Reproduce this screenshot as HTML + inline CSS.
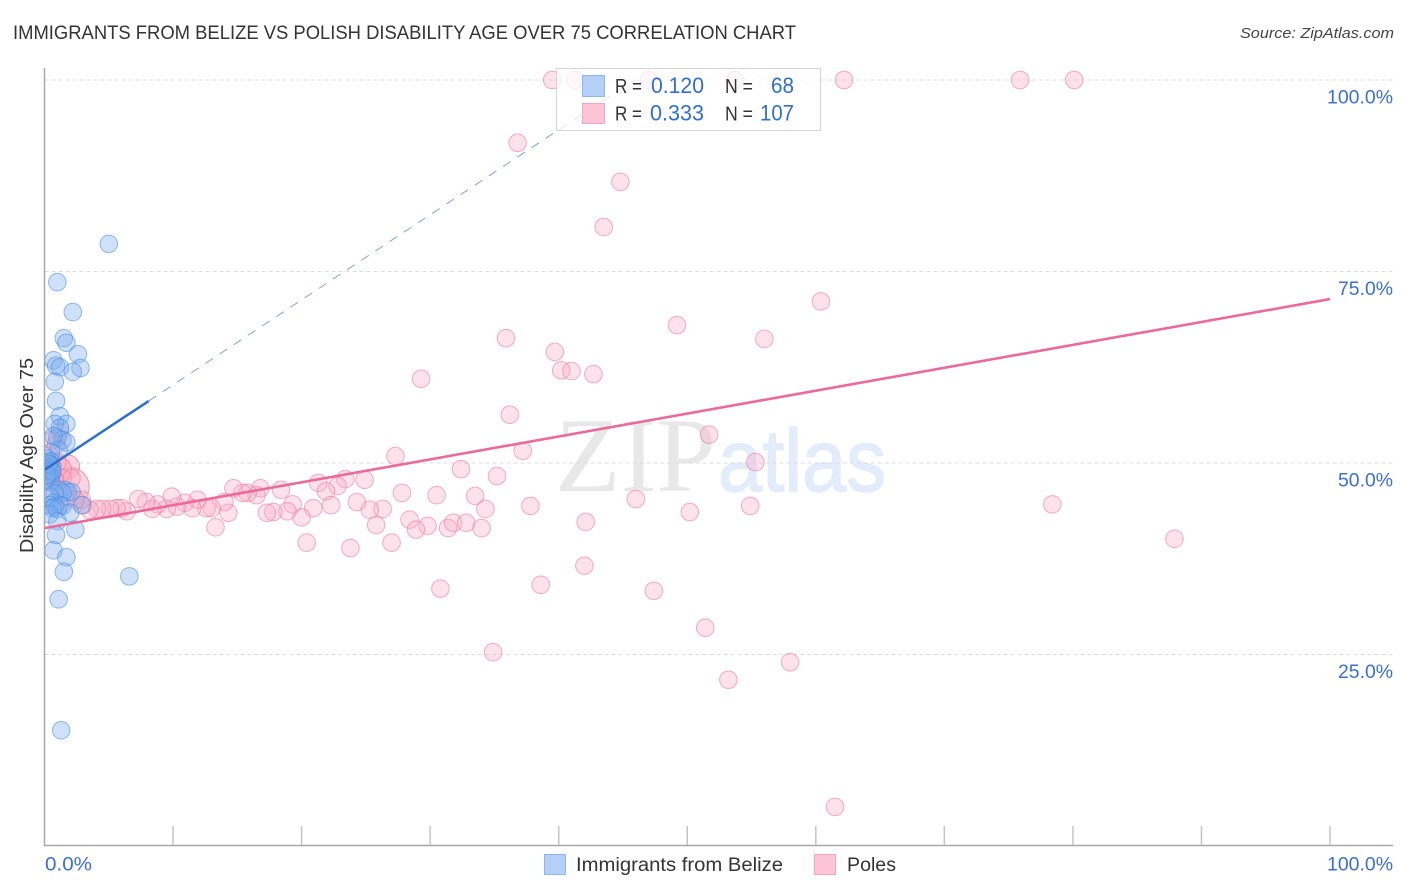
<!DOCTYPE html>
<html lang="en">
<head>
<meta charset="utf-8">
<title>Immigrants from Belize vs Polish Disability Age Over 75 Correlation Chart</title>
<style>
html,body{margin:0;padding:0;background:#fff;}
body{width:1406px;height:892px;overflow:hidden;font-family:"Liberation Sans",sans-serif;}
svg{display:block;}
text{font-family:"Liberation Sans",sans-serif;}
</style>
</head>
<body>
<svg id="chart" width="1406" height="892" viewBox="0 0 1406 892" xmlns="http://www.w3.org/2000/svg">
  <defs>
    <clipPath id="plot-clip"><rect x="45" y="60" width="1361" height="786"/></clipPath>
  </defs>
  <rect x="0" y="0" width="1406" height="892" fill="#ffffff"/>
  <text x="13" y="39" font-size="19" fill="#333333" textLength="783" lengthAdjust="spacingAndGlyphs">IMMIGRANTS FROM BELIZE VS POLISH DISABILITY AGE OVER 75 CORRELATION CHART</text>
  <text x="1394" y="38" font-size="15" font-style="italic" fill="#444444" text-anchor="end" textLength="154" lengthAdjust="spacingAndGlyphs">Source: ZipAtlas.com</text>
  <text x="555" y="491" font-size="106" fill="#e8e8e8" textLength="161" lengthAdjust="spacingAndGlyphs" style="font-family:'Liberation Serif',serif">ZIP</text>
  <text x="718" y="491" font-size="88" fill="#e3ecfa" stroke="#e3ecfa" stroke-width="1.5" textLength="168" lengthAdjust="spacingAndGlyphs">atlas</text>
  <g id="grid"></g>
  <g id="axes"></g>
  <g clip-path="url(#plot-clip)">
    <g id="marks-poles"></g>
    <g id="marks-belize"></g>
    <g id="trends"></g>
  </g>
  <g id="tick-labels"></g>
  <text transform="translate(33,553) rotate(-90)" font-size="18.5" fill="#333333" textLength="195" lengthAdjust="spacingAndGlyphs">Disability Age Over 75</text>

  <g>
    <rect x="556.5" y="68.5" width="264" height="62" fill="#ffffff" fill-opacity="0.75" stroke="#d4d4d4" stroke-width="1"/>
    <rect x="582.5" y="75.5" width="22" height="21" fill="#b4d0f7" stroke="#8db6ee" stroke-width="1"/>
    <rect x="582.5" y="103.5" width="22" height="20" fill="#fcc4d6" stroke="#f3a6c0" stroke-width="1"/>
    <text x="615" y="93" font-size="20" fill="#333333" textLength="27" lengthAdjust="spacingAndGlyphs">R =</text>
    <text x="651" y="93" font-size="22" fill="#2f6fd0" textLength="53" lengthAdjust="spacingAndGlyphs">0.120</text>
    <text x="725" y="93" font-size="20" fill="#333333" textLength="28" lengthAdjust="spacingAndGlyphs">N =</text>
    <text x="771" y="93" font-size="22" fill="#2f6fd0" textLength="23" lengthAdjust="spacingAndGlyphs">68</text>
    <text x="615" y="120.5" font-size="20" fill="#333333" textLength="27" lengthAdjust="spacingAndGlyphs">R =</text>
    <text x="650" y="120.5" font-size="22" fill="#2f6fd0" textLength="54" lengthAdjust="spacingAndGlyphs">0.333</text>
    <text x="725" y="120.5" font-size="20" fill="#333333" textLength="28" lengthAdjust="spacingAndGlyphs">N =</text>
    <text x="760" y="120.5" font-size="22" fill="#2f6fd0" textLength="34" lengthAdjust="spacingAndGlyphs">107</text>
  </g>

  <g>
    <rect x="544.5" y="854.5" width="21" height="20" fill="#b4d0f7" stroke="#8db6ee" stroke-width="1"/>
    <text x="576" y="871" font-size="19" fill="#333333" textLength="207" lengthAdjust="spacingAndGlyphs">Immigrants from Belize</text>
    <rect x="814.5" y="854.5" width="21" height="20" fill="#fcc4d6" stroke="#f3a6c0" stroke-width="1"/>
    <text x="847" y="871" font-size="19" fill="#333333" textLength="49" lengthAdjust="spacingAndGlyphs">Poles</text>
  </g>
</svg>

<script>
const belizeX = [5.0,1.0,2.2,1.5,1.7,2.6,0.7,0.9,1.2,2.8,2.2,0.8,0.9,1.2,1.7,0.8,1.2,1.0,1.4,1.7,0.7,1.1,0.5,0.2,0.5,0.3,0.4,0.1,0.6,0.3,0.5,0.2,0.6,0.4,0.1,0.5,0.3,0.1,0.5,1.1,1.6,2.1,1.8,1.4,0.8,0.4,0.7,1.2,0.4,0.8,1.4,0.6,1.0,2.9,2.0,0.4,1.0,2.4,0.9,0.7,1.7,1.5,6.6,1.1,1.3,0.3,0.6,0.2];
const belizeY = [78.6,73.6,69.7,66.3,65.7,64.2,63.4,62.7,62.5,62.4,61.9,60.6,58.1,56.1,55.1,55.1,54.6,53.3,53.0,52.7,53.5,51.7,51.4,50.6,50.2,50.1,49.8,49.6,49.5,49.2,49.1,48.8,48.7,48.5,48.2,48.1,47.9,47.6,47.5,46.5,46.5,46.2,46.2,46.1,46.0,45.6,44.8,44.5,44.5,44.3,44.4,44.1,44.0,44.5,43.5,43.3,42.4,41.3,40.6,38.6,37.7,35.8,35.2,32.2,15.1,49.9,48.9,48.4];

const polesX = [39.5,41.3,47.0,53.7,62.2,75.9,80.1,36.8,44.8,43.5,60.4,49.2,56.0,35.9,39.7,40.2,41.0,42.7,29.3,36.2,51.7,27.3,37.2,55.3,32.4,35.2,46.0,33.5,27.8,30.5,37.8,34.3,50.2,54.9,78.4,87.9,42.1,28.4,29.8,28.9,31.4,31.8,32.8,34.0,27.0,23.8,20.4,25.8,42.0,38.6,30.8,47.4,51.4,34.9,58.0,53.2,61.5,13.3,26.3,25.3,24.3,23.4,24.9,22.8,21.3,21.9,22.3,20.9,20.0,19.3,18.9,18.4,17.8,17.3,16.8,16.5,15.8,15.4,14.7,14.3,14.0,13.0,12.6,11.9,11.5,10.9,10.3,9.9,9.5,8.8,8.4,7.9,7.3,6.4,6.0,5.6,5.1,4.5,4.1,3.5,3.0,2.9,0.4,0.6,1.2,0.9,1.0,1.4,2.1,2.4,1.2,0.8];
const polesY = [100,100,100,100,100,100,100,91.8,86.7,80.8,71.1,68.0,66.2,66.3,64.5,62.1,62.0,61.6,61.0,56.3,53.7,50.9,51.6,50.1,49.2,48.3,45.3,45.7,46.1,45.8,44.4,44.0,43.6,44.4,44.6,40.1,42.3,42.6,41.8,41.3,41.5,42.2,42.2,41.5,39.6,38.9,39.6,41.9,36.6,34.1,33.6,33.3,28.5,25.3,24.0,21.7,5.1,41.6,44.0,43.9,44.9,47.9,47.8,47.0,47.4,46.3,44.5,44.1,42.9,44.6,43.7,46.5,43.6,43.5,46.7,45.8,46.1,46.1,46.7,43.5,44.9,44.1,44.1,45.2,44.1,44.8,44.3,45.6,44.0,44.6,44.0,44.9,45.3,43.7,44.1,44.1,44.0,44.0,44.0,43.9,44.5,45.2,51.0,53.0,54.0,52.4,50.1,48.0,48.0,45.2,46.5,47.8];

const polesLargeX = [1.8,2.0,1.0];
const polesLargeY = [49.5,46.9,49.1];
const polesLargeWeight = [1.9,4.8,2.6];

const belizeTrendStart = 49.1;
const belizeTrendSlope = 1.11;
const belizeSolidEnd = 8.1;
const belizeDashedEnd = 45.9;
const polesTrendStart = 41.5;
const polesTrendEnd = 71.4;

const xTicks = [0,10,20,30,40,50,60,70,80,90,100];
const yGridTicks = [100,75,50,25];
const yTickLabels = ["100.0%","75.0%","50.0%","25.0%"];
const xEndLabels = ["0.0%","100.0%"];

const SVGNS = "http://www.w3.org/2000/svg";
function xScale(v){ return 44.5 + v * 12.855; }
function yScale(v){ return 846 - v * 7.66; }
function mk(parent, tag, attrs){
  const el = document.createElementNS(SVGNS, tag);
  for (const k in attrs) el.setAttribute(k, attrs[k]);
  parent.appendChild(el);
  return el;
}

const gridG = document.getElementById("grid");
yGridTicks.forEach(function(t){
  const el = mk(gridG, "line", {x1:44.5, x2:1393, y1:yScale(t), y2:yScale(t), stroke:"#dcdcdc", "stroke-width":1, "stroke-dasharray":"4 3"});
  
  
});

const axesG = document.getElementById("axes");
const yAxis = mk(axesG, "line", {x1:44.5, x2:44.5, y1:68, y2:846, stroke:"#a8a8a8", "stroke-width":1.5});


const xAxis = mk(axesG, "line", {x1:44, x2:1393, y1:845.5, y2:845.5, stroke:"#a8a8a8", "stroke-width":1.5});


xTicks.slice(1).forEach(function(t){
  const el = mk(axesG, "line", {x1:xScale(t), x2:xScale(t), y1:826, y2:845, stroke:"#c4c4c4", "stroke-width":1.5});
  
  
});

const polesG = document.getElementById("marks-poles");
polesLargeX.forEach(function(v,i){
  const el = mk(polesG, "circle", {cx:xScale(v), cy:yScale(polesLargeY[i]), r:8.7*Math.sqrt(polesLargeWeight[i]), fill:"#f9a9c5", "fill-opacity":0.5, stroke:"#e9799f", "stroke-opacity":0.75, "stroke-width":1});
  
  
});
polesX.forEach(function(v,i){
  const el = mk(polesG, "circle", {cx:xScale(v), cy:yScale(polesY[i]), r:8.8, fill:"#f9a9c5", "fill-opacity":0.34, stroke:"#e9799f", "stroke-opacity":0.6, "stroke-width":1});
  
  
});

const belizeG = document.getElementById("marks-belize");
belizeX.forEach(function(v,i){
  const el = mk(belizeG, "circle", {cx:xScale(v), cy:yScale(belizeY[i]), r:8.8, fill:"#7aaced", "fill-opacity":0.36, stroke:"#4f92e4", "stroke-opacity":0.62, "stroke-width":1});
  
  
});

const trendG = document.getElementById("trends");
function belizeAt(x){ return belizeTrendStart + belizeTrendSlope * x; }
const dashTrend = mk(trendG, "line", {x1:xScale(belizeSolidEnd), y1:yScale(belizeAt(belizeSolidEnd)), x2:xScale(belizeDashedEnd), y2:yScale(belizeAt(belizeDashedEnd)), stroke:"#5b8bd6", "stroke-width":1, "stroke-dasharray":"9 8", "stroke-opacity":0.8});


const solidTrend = mk(trendG, "line", {x1:xScale(0), y1:yScale(belizeAt(0)), x2:xScale(belizeSolidEnd), y2:yScale(belizeAt(belizeSolidEnd)), stroke:"#2a6fd3", "stroke-width":2.5});


const polesTrend = mk(trendG, "line", {x1:xScale(0), y1:yScale(polesTrendStart), x2:xScale(100), y2:yScale(polesTrendEnd), stroke:"#ec6a9a", "stroke-width":2.6});



const labelsG = document.getElementById("tick-labels");
yTickLabels.forEach(function(s,i){
  const len = s.length === 6 ? 66 : 55;
  const el = mk(labelsG, "text", {x:1393 - len, y:yScale(yGridTicks[i]) + 23.5, "font-size":19, fill:"#3b6fd4", textLength:len, lengthAdjust:"spacingAndGlyphs"});
  el.textContent = s;
  
  
});
const x0Label = mk(labelsG, "text", {x:45, y:870.5, "font-size":19, fill:"#3b6fd4", textLength:47, lengthAdjust:"spacingAndGlyphs"});
x0Label.textContent = xEndLabels[0];


const x1Label = mk(labelsG, "text", {x:1327, y:870.5, "font-size":19, fill:"#3b6fd4", textLength:66, lengthAdjust:"spacingAndGlyphs"});
x1Label.textContent = xEndLabels[1];


</script>
</body>
</html>
